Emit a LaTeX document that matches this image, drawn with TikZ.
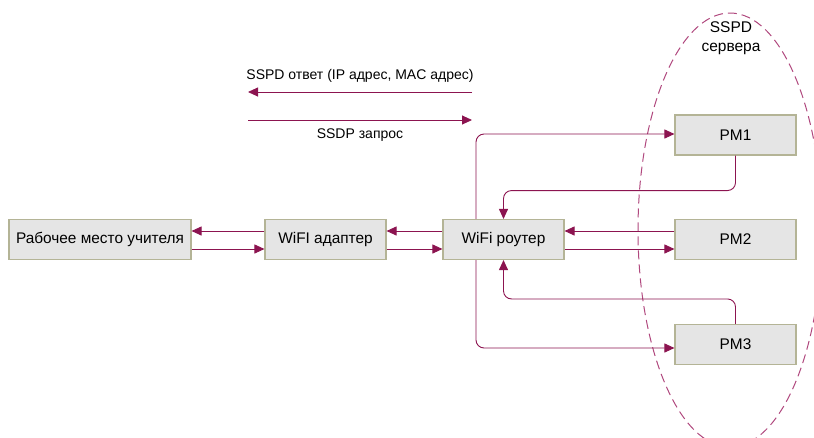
\documentclass[tikz,border=0pt]{standalone}
\usepackage{fontspec}
\setmainfont{Liberation Sans}
\usetikzlibrary{arrows.meta}
\definecolor{arr}{HTML}{8C1450}
\definecolor{ell}{HTML}{B0487E}
\definecolor{boxfill}{HTML}{E5E5E5}
\definecolor{boxline}{HTML}{B4B496}
\tikzset{
  box/.style={draw=boxline, line width=1.1pt, fill=boxfill, minimum height=40pt, inner sep=0pt, font=\fontsize{15.4pt}{18pt}\selectfont},
  conn/.style={draw=arr, line width=0.9pt, rounded corners=8pt, -{Triangle[length=10pt,width=9pt]}},
  lbl/.style={font=\fontsize{14pt}{17pt}\selectfont, inner sep=0pt}
}
\begin{document}
\begin{tikzpicture}[x=1pt,y=-1pt]
\useasboundingbox (0,0) rectangle (814,437);
\begin{scope}
\clip (0,0) rectangle (814,437);
\draw[ell, line width=1pt, dash pattern=on 9pt off 5pt] (730,230) ellipse [x radius=92, y radius=217];
\end{scope}
\node[lbl, align=center, font=\fontsize{15.5pt}{18.5pt}\selectfont] (srv) at (731,38) {SSPD\\сервера};

\node[box, minimum width=182pt] (rm) at (100,239.5) {Рабочее место учителя};
\node[box, minimum width=121pt] (ad) at (325.5,239.5) {WiFI адаптер};
\node[box, minimum width=121pt] (rt) at (503.5,239.5) {WiFi роутер};
\node[box, minimum width=121pt] (pm1) at (735.5,135) {PM1};
\node[box, minimum width=121pt] (pm2) at (735.5,239.5) {PM2};
\node[box, minimum width=121pt] (pm3) at (735.5,344.5) {PM3};

\draw[conn] ([yshift=8.5pt]ad.west) -- ([yshift=8.5pt]rm.east);
\draw[conn] ([yshift=-9.5pt]rm.east) -- ([yshift=-9.5pt]ad.west);
\draw[conn] ([yshift=8.5pt]rt.west) -- ([yshift=8.5pt]ad.east);
\draw[conn] ([yshift=-9.5pt]ad.east) -- ([yshift=-9.5pt]rt.west);
\draw[conn] ([yshift=8.5pt]pm2.west) -- ([yshift=8.5pt]rt.east);
\draw[conn] ([yshift=-9.5pt]rt.east) -- ([yshift=-9.5pt]pm2.west);

\draw[conn] ([xshift=-27.5pt]rt.north) |- ([yshift=1pt]pm1.west);
\draw[conn] (pm1.south) -- ++(0,35) -| (rt.north);
\draw[conn] (pm3.north) -- ++(0,-25) -| (rt.south);
\draw[conn] ([xshift=-27.5pt]rt.south) |- ([yshift=-3.5pt]pm3.west);

\coordinate (r1) at (472,92);
\coordinate (l1) at (248,92);
\coordinate (l2) at (248,120);
\coordinate (r2) at (472,120);
\draw[conn] (r1) -- (l1) node[lbl, midway, above=9pt] (t1) {SSPD ответ (IP адрес, MAC адрес)};
\draw[conn] (l2) -- (r2) node[lbl, midway, below=8pt] (t2) {SSDP запрос};
\end{tikzpicture}
\end{document}
